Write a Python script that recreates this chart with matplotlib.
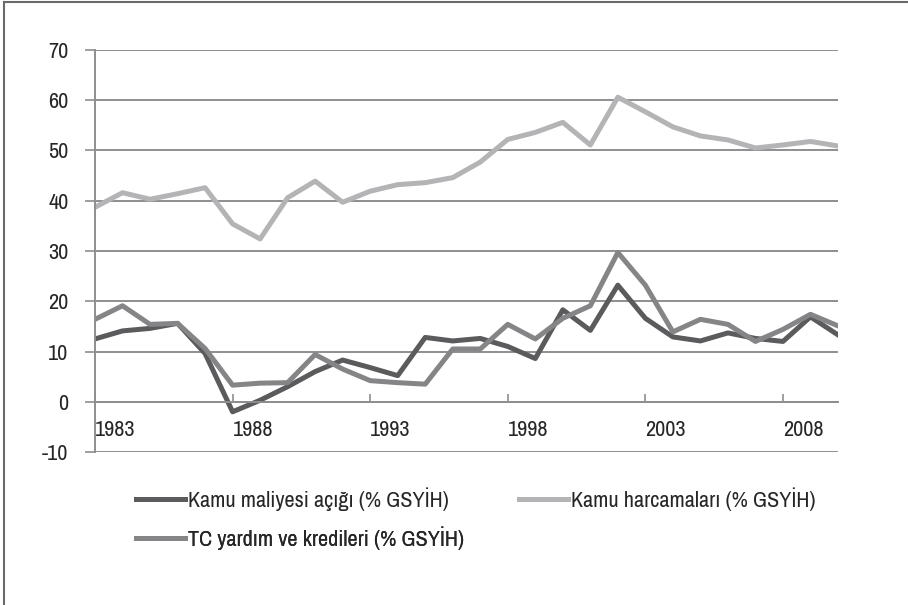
import matplotlib
matplotlib.use('Agg')
import matplotlib.pyplot as plt
from matplotlib.lines import Line2D
from matplotlib import font_manager

years = list(range(1983, 2011))
kamu_maliyesi_acigi = [12.5, 14.1, 14.6, 15.6, 9.6, -2.0, 0.3, 3.0, 6.0, 8.3,
                       6.8, 5.2, 12.8, 12.1, 12.6, 11.0, 8.6, 18.3, 14.2, 23.2,
                       16.6, 12.9, 12.1, 13.7, 12.6, 12.0, 16.9, 13.3]
kamu_harcamalari = [38.7, 41.6, 40.3, 41.4, 42.6, 35.4, 32.4, 40.6, 43.9, 39.7,
                    41.9, 43.2, 43.6, 44.6, 47.7, 52.2, 53.6, 55.6, 51.1, 60.6,
                    57.7, 54.7, 52.9, 52.1, 50.5, 51.1, 51.8, 50.9]
tc_yardim_kredileri = [16.4, 19.1, 15.4, 15.6, 10.6, 3.3, 3.7, 3.8, 9.4, 6.5,
                       4.2, 3.8, 3.5, 10.5, 10.5, 15.4, 12.5, 16.6, 19.1, 29.7,
                       23.2, 13.9, 16.4, 15.4, 12.0, 14.4, 17.4, 15.1]
labels = ['Kamu maliyesi açığı (% GSYİH)', 'Kamu harcamaları (% GSYİH)',
          'TC yardım ve kredileri (% GSYİH)']
colors = ['#5b5b5d', '#b4b4b7', '#858588']
xtick_years = [1983, 1988, 1993, 1998, 2003, 2008]
yticks = list(range(-10, 80, 10))

avail = {f.name for f in font_manager.fontManager.ttflist}
prefs = ['Liberation Sans Narrow', 'Arial Narrow', 'Archivo Narrow', 'PT Sans Narrow',
         'Pragati Narrow', 'Roboto Condensed', 'Open Sans Condensed',
         'Fira Sans Condensed', 'IBM Plex Sans Condensed', 'Encode Sans Condensed',
         'Asap Condensed', 'Sofia Sans Condensed', 'Barlow Semi Condensed']
chosen = next((p for p in prefs if p in avail), 'Liberation Sans')
plt.rcParams['font.family'] = [chosen, 'DejaVu Sans']

W, H = 908, 605
fig = plt.figure(figsize=(W / 100, H / 100), dpi=100)
ax = fig.add_axes([95 / W, 1 - 452 / H, (838 - 95) / W, (452 - 50) / H])

lw = 3.6
l1, = ax.plot(years, kamu_maliyesi_acigi, color=colors[0], lw=lw, label=labels[0])
l2, = ax.plot(years, kamu_harcamalari, color=colors[1], lw=lw, label=labels[1])
l3, = ax.plot(years, tc_yardim_kredileri, color=colors[2], lw=lw, label=labels[2])

ax.set_xlim(years[0], years[-1])
ax.set_ylim(-10, 70)
ax.set_yticks(yticks)
ax.set_yticklabels([str(v) for v in yticks])
ax.yaxis.grid(True, color='#8e8e90', lw=1.4)
ax.set_axisbelow(True)

for s in ['top', 'right']:
    ax.spines[s].set_visible(False)
ax.spines['left'].set_color('#8e8e90')
ax.spines['left'].set_linewidth(1.4)
ax.spines['bottom'].set_position(('data', 0))
ax.spines['bottom'].set_color('#8e8e90')
ax.spines['bottom'].set_linewidth(1.4)

fs = 16
ax.set_xticks(xtick_years)
ax.set_xticklabels([str(y) for y in xtick_years])
for t in ax.get_xticklabels():
    t.set_horizontalalignment('left')
ax.tick_params(axis='x', direction='in', length=6, width=1.2, color='#8e8e90',
               pad=13, labelsize=fs, labelcolor='#262626')
ax.tick_params(axis='y', direction='out', length=7, width=1.2, color='#8e8e90',
               pad=12, labelsize=fs, labelcolor='#262626')

anchors = [(136, 499), (519, 499), (136, 538)]
for line, (px, py) in zip([l1, l2, l3], anchors):
    leg = ax.legend(handles=[line], loc='center left',
                    bbox_to_anchor=(px / W, 1 - py / H), bbox_transform=fig.transFigure,
                    frameon=False, borderpad=0, borderaxespad=0, handlelength=2.2,
                    handletextpad=0.12, fontsize=fs, labelcolor='#262626')
    ax.add_artist(leg)

# outer chart frame (left and top edges visible)
fig.add_artist(Line2D([4 / W, 4 / W], [0, 1 - 2 / H], transform=fig.transFigure,
                      color='#6a6a6a', lw=1.5))
fig.add_artist(Line2D([4 / W, 1], [1 - 2 / H, 1 - 2 / H], transform=fig.transFigure,
                      color='#6a6a6a', lw=1.5))

fig.savefig('out.png', dpi=100)
